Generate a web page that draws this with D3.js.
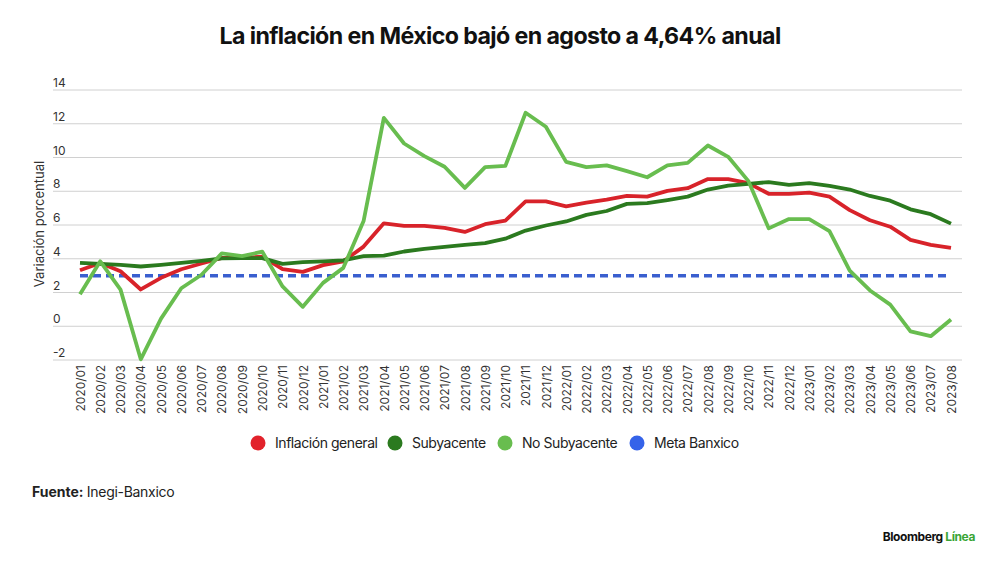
<!DOCTYPE html>
<html>
<head>
<meta charset="utf-8">
<script src="https://cdn.jsdelivr.net/npm/d3@7"></script>
<style>
  body { margin: 0; background: #fff; }
  text { font-family: "Inter", "Liberation Sans", sans-serif; }
</style>
</head>
<body>
<div id="chart"></div>
<script>
// data
var months = [];
[2020, 2021, 2022, 2023].forEach(function(y) {
  for (var m = 1; m <= 12; m++) {
    if (y === 2023 && m > 8) break;
    months.push(y + "/" + (m < 10 ? "0" + m : m));
  }
});

var general = [3.32, 3.75, 3.26, 2.18, 2.87, 3.38, 3.72, 4.05, 4.05, 4.12, 3.38, 3.22, 3.62, 3.85,
  4.72, 6.10, 5.95, 5.95, 5.83, 5.59, 6.05, 6.26, 7.40, 7.40, 7.10, 7.33, 7.50, 7.72, 7.68, 8.02,
  8.18, 8.72, 8.72, 8.48, 7.85, 7.85, 7.92, 7.68, 6.88, 6.28, 5.90, 5.12, 4.82, 4.64];
var subyacente = [3.76, 3.70, 3.64, 3.54, 3.64, 3.75, 3.88, 4.02, 4.04, 4.04, 3.70, 3.80, 3.85, 3.90,
  4.15, 4.18, 4.43, 4.58, 4.70, 4.82, 4.92, 5.19, 5.67, 5.97, 6.21, 6.60, 6.83, 7.25, 7.30, 7.48,
  7.68, 8.10, 8.33, 8.44, 8.54, 8.38, 8.48, 8.32, 8.10, 7.72, 7.44, 6.93, 6.64, 6.08];
var noSubyacente = [1.90, 3.85, 2.17, -1.96, 0.45, 2.25, 3.05, 4.32, 4.15, 4.42, 2.36, 1.15, 2.57, 3.46,
  6.23, 12.35, 10.83, 10.08, 9.45, 8.20, 9.43, 9.50, 12.65, 11.82, 9.74, 9.43, 9.53, 9.19, 8.83, 9.53,
  9.68, 10.71, 10.04, 8.60, 5.80, 6.35, 6.35, 5.63, 3.30, 2.12, 1.28, -0.30, -0.59, 0.40];
var metaBanxico = 3;

var yTicks = [-2, 0, 2, 4, 6, 8, 10, 12, 14];

var series = [
  { name: "Inflación general", values: general, color: "#d8232a" },
  { name: "Subyacente", values: subyacente, color: "#2b7a1f" },
  { name: "No Subyacente", values: noSubyacente, color: "#68bd4f" }
];
var legendItems = [
  { name: "Inflación general", color: "#e2222b" },
  { name: "Subyacente", color: "#2b7a1f" },
  { name: "No Subyacente", color: "#68bd4f" },
  { name: "Meta Banxico", color: "#3563e9" }
];

var svgWidth = 1000, svgHeight = 565;

var svg = d3.select("#chart").append("svg")
  .attr("width", svgWidth)
  .attr("height", svgHeight);

// title
svg.append("text")
  .attr("x", 500)
  .attr("y", 44)
  .attr("text-anchor", "middle")
  .attr("font-size", 23.2)
  .attr("font-weight", 700)
  .attr("letter-spacing", -0.6)
  .attr("fill", "#111")
  .text("La inflación en México bajó en agosto a 4,64% anual");

var x = d3.scalePoint().domain(months).range([80, 951]);
var y = d3.scaleLinear().domain([-2, 14]).range([360, 90]);

// gridlines + y labels
var grid = svg.append("g");
grid.selectAll("line").data(yTicks).enter().append("line")
  .attr("x1", 53).attr("x2", 962)
  .attr("y1", d => y(d)).attr("y2", d => y(d))
  .attr("stroke", "#d0d0d0").attr("stroke-width", 1);
grid.selectAll("text").data(yTicks).enter().append("text")
  .attr("x", 53)
  .attr("y", d => y(d) - 3)
  .attr("font-size", 12)
  .attr("fill", "#333")
  .text(d => d);

// y axis title
svg.append("text")
  .attr("transform", "translate(44,224) rotate(-90)")
  .attr("text-anchor", "middle")
  .attr("font-size", 13)
  .attr("fill", "#333")
  .text("Variación porcentual");

// x labels
var xAxis = d3.axisBottom(x).tickSize(0).tickPadding(0);
var xg = svg.append("g")
  .attr("transform", "translate(0,365)")
  .call(xAxis);
xg.select(".domain").remove();
xg.selectAll("text")
  .attr("font-family", "Inter, 'Liberation Sans', sans-serif")
  .attr("font-size", 12)
  .attr("fill", "#333")
  .attr("text-anchor", "end")
  .attr("dy", "0.35em")
  .attr("x", 0)
  .attr("y", 0)
  .attr("transform", "rotate(-90)");

// meta banxico dashed line
svg.append("line")
  .attr("x1", x(months[0])).attr("x2", x(months[months.length - 1]))
  .attr("y1", y(metaBanxico)).attr("y2", y(metaBanxico))
  .attr("stroke", "#3a5fcf")
  .attr("stroke-width", 3.5)
  .attr("stroke-dasharray", "8,5");

// lines
var line = d3.line()
  .x((d, i) => x(months[i]))
  .y(d => y(d));

svg.selectAll(".serie").data(series).enter().append("path")
  .attr("class", "serie")
  .attr("d", d => line(d.values))
  .attr("fill", "none")
  .attr("stroke", d => d.color)
  .attr("stroke-width", 3.8)
  .attr("stroke-linejoin", "round");

// legend
var legendX = [258, 395, 505, 637];
var legend = svg.append("g");
legendItems.forEach(function(d, i) {
  var g = legend.append("g").attr("transform", `translate(${legendX[i]},443)`);
  g.append("circle").attr("r", 7.5).attr("fill", d.color);
  g.append("text")
    .attr("x", 17)
    .attr("y", 5)
    .attr("font-size", 14)
    .attr("letter-spacing", -0.45)
    .attr("fill", "#222")
    .text(d.name);
});

// source
var src = svg.append("text")
  .attr("x", 32)
  .attr("y", 497)
  .attr("font-size", 14)
  .attr("fill", "#222");
src.append("tspan").attr("font-weight", 700).text("Fuente: ");
src.append("tspan").attr("letter-spacing", -0.3).text("Inegi-Banxico");

// brand
var brand = svg.append("text")
  .attr("x", 975)
  .attr("y", 541)
  .attr("text-anchor", "end")
  .attr("font-size", 12)
  .attr("font-weight", 700)
  .attr("letter-spacing", -0.4)
  .attr("fill", "#111");
brand.append("tspan").text("Bloomberg ");
brand.append("tspan").attr("fill", "#3aa535").text("Línea");
</script>
</body>
</html>
